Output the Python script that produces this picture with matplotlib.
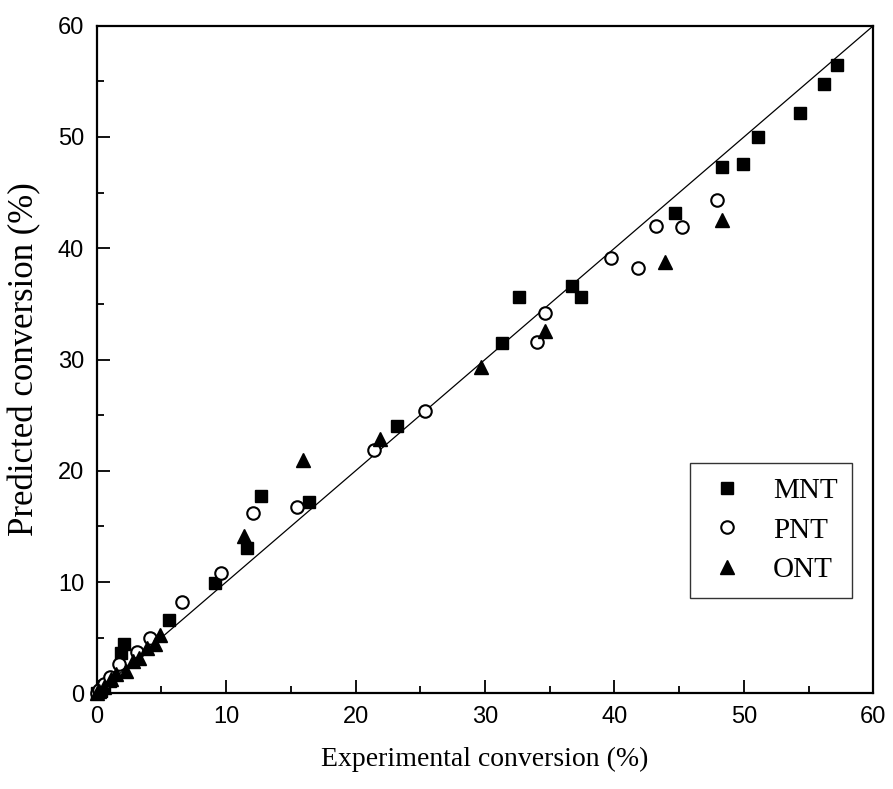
import matplotlib
matplotlib.use("Agg")
import matplotlib.pyplot as plt
from matplotlib.ticker import MultipleLocator

# ---- data ----
mnt_x = [0.0, 0.3, 0.6, 1.0, 1.9, 2.1, 5.6, 9.1, 11.6, 12.7, 16.4, 23.2, 31.3, 32.6,
         36.7, 37.4, 44.7, 48.3, 49.9, 51.1, 54.3, 56.2, 57.2]
mnt_y = [0.0, 0.2, 0.7, 1.1, 3.6, 4.4, 6.6, 9.9, 13.1, 17.7, 17.2, 24.0, 31.5, 35.6,
         36.6, 35.6, 43.2, 47.3, 47.6, 50.0, 52.2, 54.8, 56.5]

pnt_x = [0.0, 0.2, 0.6, 1.0, 1.7, 3.1, 4.1, 6.6, 9.6, 12.1, 15.5, 21.4, 25.4, 34.0,
         34.6, 39.7, 41.8, 43.2, 45.2, 47.9]
pnt_y = [0.0, 0.3, 0.8, 1.5, 2.6, 3.7, 5.0, 8.2, 10.8, 16.2, 16.75, 21.9, 25.4, 31.6,
         34.2, 39.1, 38.2, 42.0, 41.9, 44.3]

ont_x = [0.0, 0.2, 0.6, 1.1, 1.5, 2.3, 2.8, 3.3, 3.9, 4.5, 4.9, 11.4, 15.9, 21.85,
         29.65, 34.6, 43.9, 48.3]
ont_y = [0.0, 0.2, 0.6, 1.3, 1.7, 2.0, 2.9, 3.2, 4.1, 4.4, 5.2, 14.1, 21.0, 22.9,
         29.3, 32.6, 38.8, 42.5]

series_labels = ["MNT", "PNT", "ONT"]
axis_limits = [0, 60]
x_label = "Experimental conversion (%)"
y_label = "Predicted conversion (%)"

# ---- figure ----
fig = plt.figure(figsize=(8.93, 7.89), dpi=100)
ax = fig.add_axes([0.1083, 0.1213, 0.8697, 0.8461])

ax.plot(axis_limits, axis_limits, color="black", lw=0.9, zorder=1)

ax.plot(mnt_x, mnt_y, ls="none", marker="s", ms=9.3, mfc="black", mec="black",
        mew=1.0, label=series_labels[0], zorder=3, clip_on=False)
ax.plot(pnt_x, pnt_y, ls="none", marker="o", ms=9, mfc="white", mec="black",
        mew=1.5, label=series_labels[1], zorder=3, clip_on=False)
ax.plot(ont_x, ont_y, ls="none", marker="^", ms=10.5, mfc="black", mec="black",
        mew=1.0, label=series_labels[2], zorder=3, clip_on=False)

ax.set_xlim(axis_limits)
ax.set_ylim(axis_limits)
ax.xaxis.set_major_locator(MultipleLocator(10))
ax.yaxis.set_major_locator(MultipleLocator(10))
ax.xaxis.set_minor_locator(MultipleLocator(5))
ax.yaxis.set_minor_locator(MultipleLocator(5))

for s in ax.spines.values():
    s.set_linewidth(1.6)

ax.tick_params(which="both", direction="in", top=False, right=False, width=1.3)
ax.tick_params(which="major", length=9.5)
ax.tick_params(which="minor", length=5)
ax.tick_params(axis="x", which="major", pad=9)
ax.tick_params(axis="y", which="major", pad=9)

tick_font = "Liberation Sans"
for lab in ax.get_xticklabels() + ax.get_yticklabels():
    lab.set_fontfamily(tick_font)
    lab.set_fontsize(17)

ax.set_xlabel(x_label, fontfamily="Liberation Serif", fontsize=20, labelpad=14)
ax.set_ylabel(y_label, fontfamily="Liberation Serif", fontsize=25, labelpad=12)

leg = ax.legend(loc="lower right", bbox_to_anchor=(0.973, 0.143),
                borderaxespad=0, frameon=True, fancybox=False, shadow=False,
                prop={"family": "Liberation Serif", "size": 21},
                handlelength=1.5, handletextpad=0.85, labelspacing=0.45,
                borderpad=0.5, numpoints=1)
leg.get_frame().set_edgecolor("black")
leg.get_frame().set_linewidth(1.0)

fig.savefig("out.png", dpi=100)
